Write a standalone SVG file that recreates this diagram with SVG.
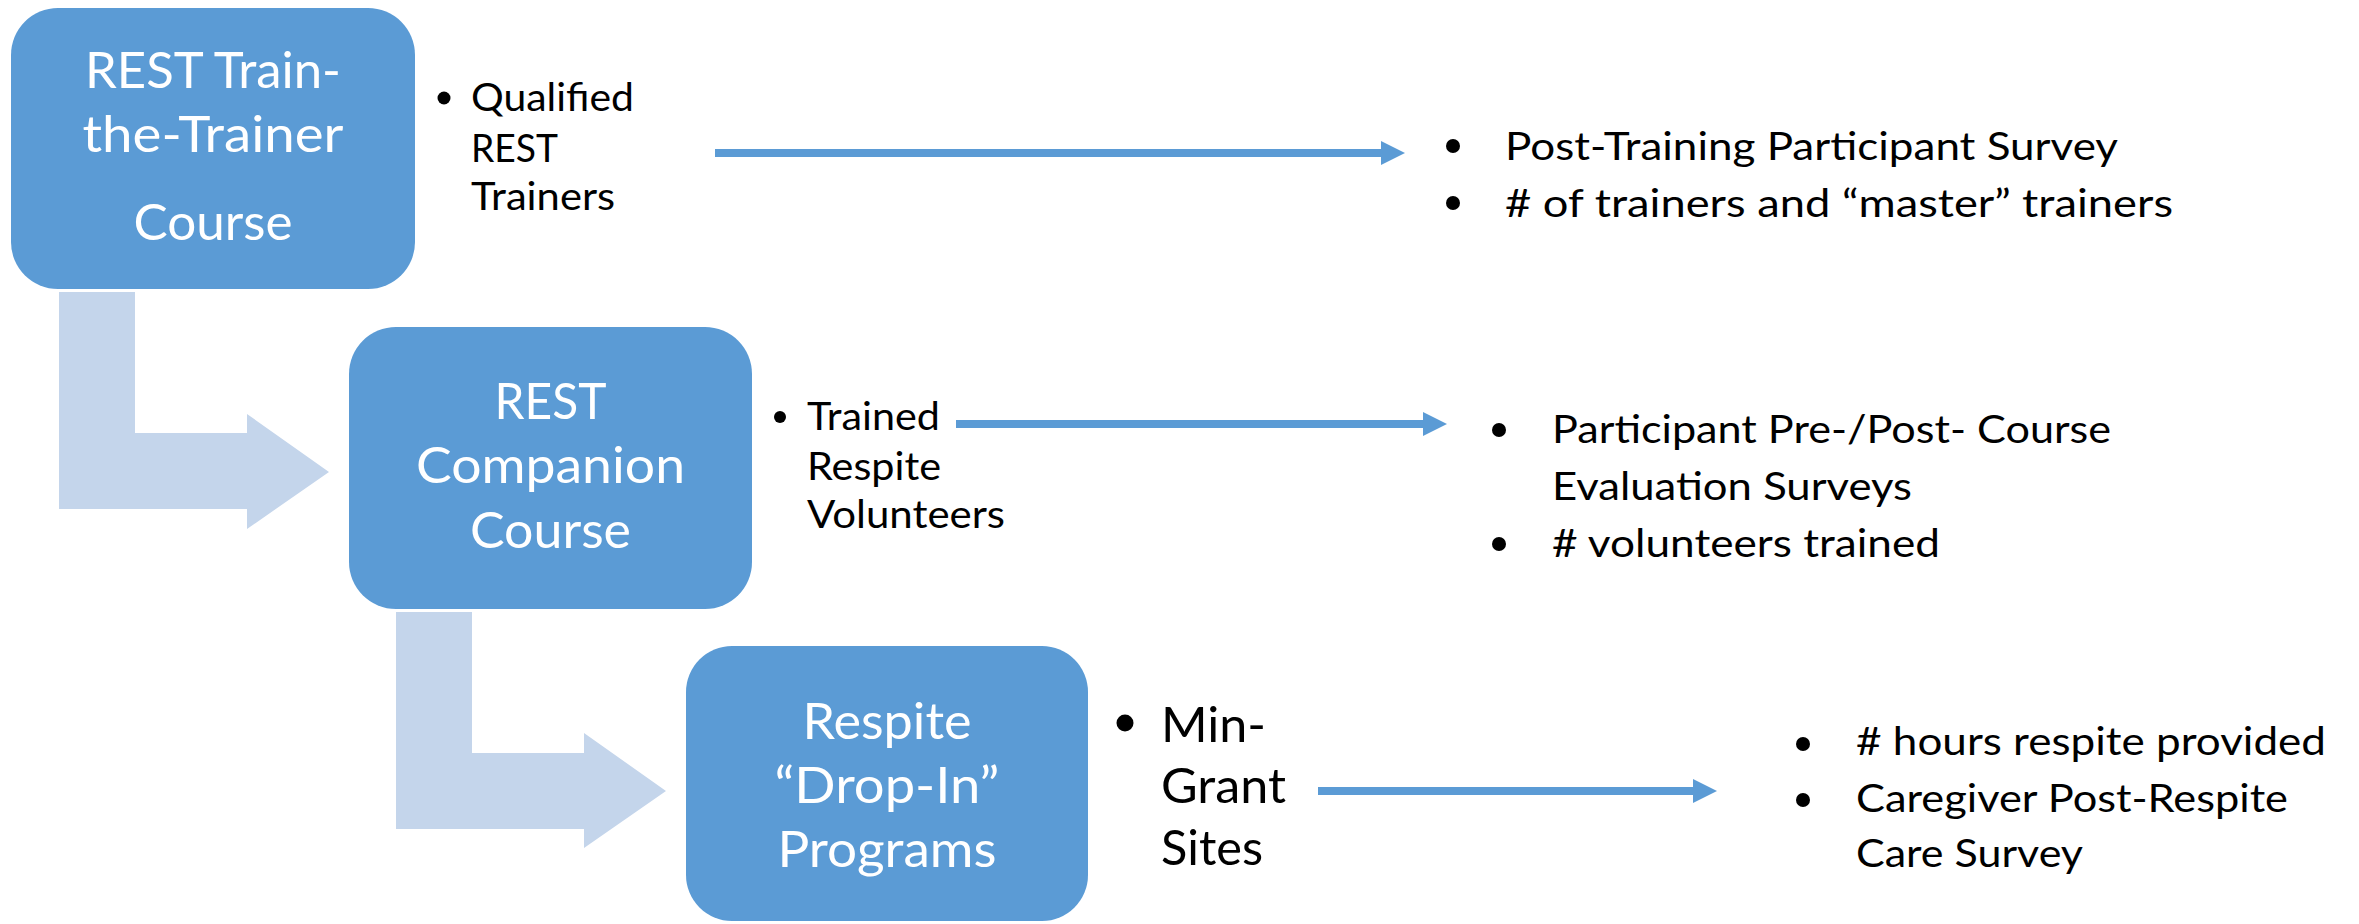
<svg xmlns="http://www.w3.org/2000/svg" width="2359" height="924" viewBox="0 0 2359 924">
<style>
.box{fill:#5B9BD5;}
.bend{fill:#C4D5EB;}
.bt{font-family:Lato,"Open Sans",sans-serif;font-size:50px;fill:#FFFFFF;text-anchor:middle;}
.lbl{font-family:Lato,"Open Sans",sans-serif;font-size:38px;fill:#000000;}
.big{font-family:Lato,"Open Sans",sans-serif;font-size:48px;fill:#000000;}
.lst{font-family:Lato,"Open Sans",sans-serif;font-size:38px;fill:#000000;}
.conn{stroke:#5B9BD5;stroke-width:8;fill:none;}
.dot{fill:#000000;}
</style>
<defs>
<marker id="ah" markerUnits="userSpaceOnUse" markerWidth="24" markerHeight="24" refX="0" refY="12" orient="auto" viewBox="0 0 24 24">
<path d="M0,0 L24,12 L0,24 Z" fill="#5B9BD5"/>
</marker>
</defs>
<rect width="2359" height="924" fill="#FFFFFF"/>

<g id="bend-arrows">
<polygon class="bend" points="59,292 135,292 135,433 247,433 247,414 329,472 247,529 247,509 59,509"/>
<polygon class="bend" points="396,612 472,612 472,753 584,753 584,733 666,791 584,848 584,829 396,829"/>
</g>

<g id="node-train-the-trainer">
<rect class="box" x="11" y="8" width="404" height="281" rx="47" ry="47"/>
<text class="bt" x="213" y="88" textLength="256" lengthAdjust="spacingAndGlyphs">REST Train-</text>
<text class="bt" x="213" y="152" textLength="261" lengthAdjust="spacingAndGlyphs">the-Trainer</text>
<text class="bt" x="213" y="240" textLength="159" lengthAdjust="spacingAndGlyphs">Course</text>
</g>

<g id="node-companion">
<rect class="box" x="349" y="327" width="403" height="282" rx="47" ry="47"/>
<text class="bt" x="550.5" y="419" textLength="112" lengthAdjust="spacingAndGlyphs">REST</text>
<text class="bt" x="550.5" y="483" textLength="269" lengthAdjust="spacingAndGlyphs">Companion</text>
<text class="bt" x="550.5" y="548" textLength="161" lengthAdjust="spacingAndGlyphs">Course</text>
</g>

<g id="node-dropin">
<rect class="box" x="686" y="646" width="402" height="275" rx="46" ry="46"/>
<text class="bt" x="887" y="739" textLength="169" lengthAdjust="spacingAndGlyphs">Respite</text>
<text class="bt" x="887" y="803" textLength="225" lengthAdjust="spacingAndGlyphs">“Drop-In”</text>
<text class="bt" x="887" y="867" textLength="219" lengthAdjust="spacingAndGlyphs">Programs</text>
</g>

<g id="label-qualified">
<circle class="dot" cx="444" cy="98" r="6.5"/>
<text class="lbl" x="471" y="111" textLength="163" lengthAdjust="spacingAndGlyphs">Qualified</text>
<text class="lbl" x="471" y="162" textLength="87" lengthAdjust="spacingAndGlyphs">REST</text>
<text class="lbl" x="471" y="210" textLength="144" lengthAdjust="spacingAndGlyphs">Trainers</text>
</g>

<g id="label-trained">
<circle class="dot" cx="780" cy="417" r="6"/>
<text class="lbl" x="807" y="430" textLength="133" lengthAdjust="spacingAndGlyphs">Trained</text>
<text class="lbl" x="807" y="480" textLength="134" lengthAdjust="spacingAndGlyphs">Respite</text>
<text class="lbl" x="807" y="528" textLength="198" lengthAdjust="spacingAndGlyphs">Volunteers</text>
</g>

<g id="label-mingrant">
<circle class="dot" cx="1125" cy="723" r="8.5"/>
<text class="big" x="1161" y="742" textLength="105" lengthAdjust="spacingAndGlyphs">Min-</text>
<text class="big" x="1161" y="803" textLength="125" lengthAdjust="spacingAndGlyphs">Grant</text>
<text class="big" x="1161" y="865" textLength="102" lengthAdjust="spacingAndGlyphs">Sites</text>
</g>

<g id="list-1">
<circle class="dot" cx="1453" cy="146" r="7"/>
<circle class="dot" cx="1453" cy="203" r="7"/>
<text class="lst" x="1505" y="160" textLength="613" lengthAdjust="spacingAndGlyphs">Post-Training Participant Survey</text>
<text class="lst" x="1505" y="217" textLength="668" lengthAdjust="spacingAndGlyphs"># of trainers and “master” trainers</text>
</g>

<g id="list-2">
<circle class="dot" cx="1499" cy="430" r="7"/>
<circle class="dot" cx="1499" cy="544" r="7"/>
<text class="lst" x="1552" y="443" textLength="559" lengthAdjust="spacingAndGlyphs">Participant Pre-/Post- Course</text>
<text class="lst" x="1552" y="500" textLength="360" lengthAdjust="spacingAndGlyphs">Evaluation Surveys</text>
<text class="lst" x="1552" y="557" textLength="388" lengthAdjust="spacingAndGlyphs"># volunteers trained</text>
</g>

<g id="list-3">
<circle class="dot" cx="1803" cy="744" r="7"/>
<circle class="dot" cx="1803" cy="800" r="7"/>
<text class="lst" x="1856" y="755" textLength="470" lengthAdjust="spacingAndGlyphs"># hours respite provided</text>
<text class="lst" x="1856" y="812" textLength="432" lengthAdjust="spacingAndGlyphs">Caregiver Post-Respite</text>
<text class="lst" x="1856" y="867" textLength="227" lengthAdjust="spacingAndGlyphs">Care Survey</text>
</g>

<g id="connectors">
<line class="conn" x1="715" y1="153" x2="1381" y2="153" marker-end="url(#ah)"/>
<line class="conn" x1="956" y1="424" x2="1423" y2="424" marker-end="url(#ah)"/>
<line class="conn" x1="1318" y1="791" x2="1693" y2="791" marker-end="url(#ah)"/>
</g>
</svg>
